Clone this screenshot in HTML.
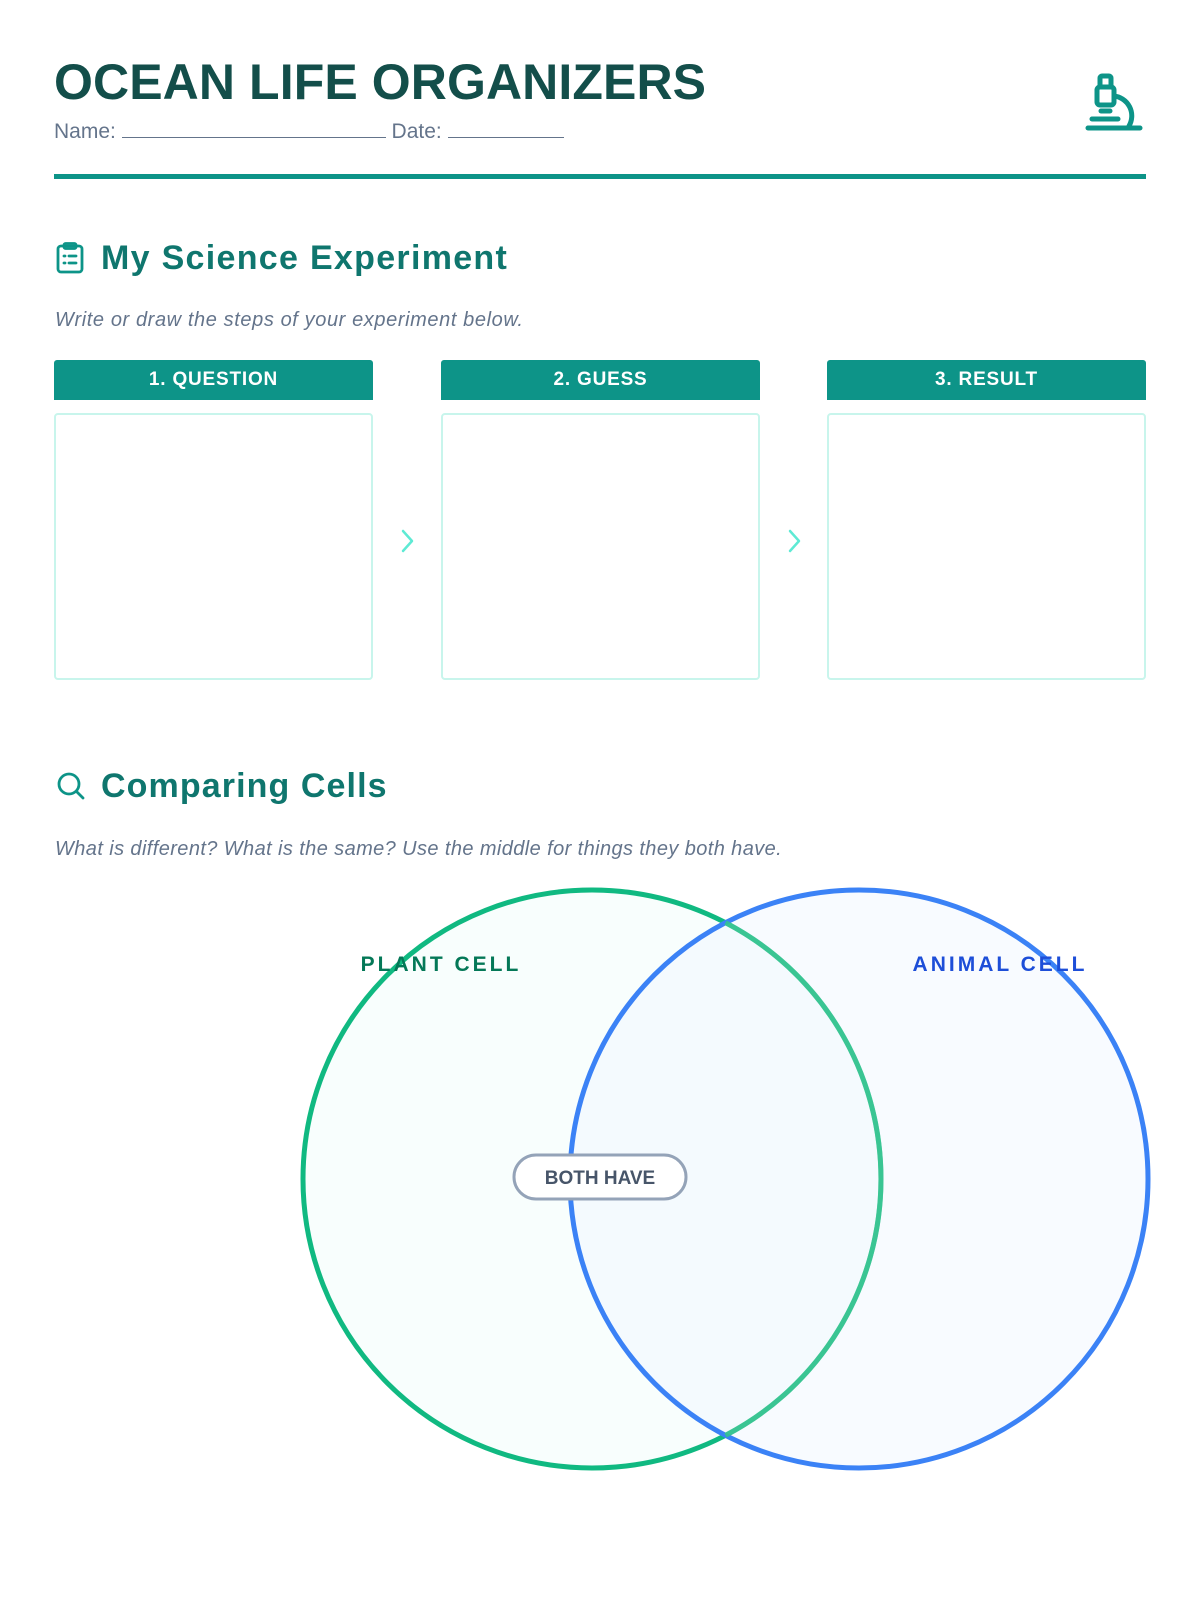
<!DOCTYPE html>
<html><head><meta charset="utf-8"><style>
html,body{margin:0;padding:0;background:#fff;}
body{width:1200px;height:1600px;position:relative;overflow:hidden;font-family:"Liberation Sans","DejaVu Sans",sans-serif;}
.abs{position:absolute;}
h1{position:absolute;left:54px;top:57px;margin:0;font-size:50px;font-weight:bold;color:#134e4a;letter-spacing:0.1px;line-height:1;}
.name{left:54px;top:118px;font-size:21px;color:#64748b;white-space:nowrap;}
.ul{display:inline-block;border-bottom:1.5px solid #64748b;height:19px;vertical-align:baseline;}
.rule{left:54px;top:174px;width:1092px;height:5px;background:#0d9488;}
.h2{font-size:34px;font-weight:bold;color:#0f766e;line-height:1;white-space:nowrap;}
.sub{font-size:20px;font-style:italic;color:#64748b;white-space:nowrap;}
.hdr{top:360px;height:40px;width:319px;background:#0d9488;border-radius:3px 3px 0 0;color:#fff;font-weight:bold;font-size:19px;text-align:center;line-height:40px;letter-spacing:.8px;}
.box{top:413px;height:263px;width:315px;border:2px solid #c8f5ec;border-radius:4px;}
</style></head><body>
<h1>OCEAN LIFE ORGANIZERS</h1>
<div class="abs name">Name: <span class="ul" style="width:264px"></span> Date: <span class="ul" style="width:116px"></span></div>
<svg class="abs" style="left:1085px;top:70px" width="62" height="64" viewBox="0 0 62 64" fill="none" stroke="#0d9488" stroke-width="5" stroke-linecap="round">
<rect x="15" y="6" width="11" height="11" rx="2"/><rect x="12" y="17" width="17" height="18" rx="3"/>
<line x1="16" y1="41" x2="25" y2="41"/><line x1="7" y1="49" x2="33" y2="49"/><line x1="3" y1="58" x2="55" y2="58"/>
<path d="M29 26 A20 20 0 0 1 44 56"/></svg>
<div class="abs rule"></div>

<svg class="abs" style="left:56px;top:242px" width="30" height="32" viewBox="0 0 30 32" fill="none" stroke="#0d9488" stroke-width="2.8" stroke-linecap="round">
<rect x="2" y="4" width="24" height="26" rx="3"/><rect x="8" y="1.5" width="12" height="5" rx="1.5"/>
<line x1="8" y1="14" x2="9" y2="14"/><line x1="13" y1="14" x2="20" y2="14"/><line x1="8" y1="21" x2="9" y2="21"/><line x1="13" y1="21" x2="20" y2="21"/></svg>
<div class="abs h2" style="left:101px;top:241px;letter-spacing:1.3px">My Science Experiment</div>
<div class="abs sub" style="left:55px;top:309px;letter-spacing:0.6px">Write or draw the steps of your experiment below.</div>

<div class="abs hdr" style="left:54px">1. QUESTION</div>
<div class="abs hdr" style="left:441px">2. GUESS</div>
<div class="abs hdr" style="left:827px">3. RESULT</div>
<div class="abs box" style="left:54px"></div>
<div class="abs box" style="left:441px"></div>
<div class="abs box" style="left:827px"></div>
<svg class="abs" style="left:398px;top:527px" width="20" height="28" fill="none" stroke="#5eead4" stroke-width="2.5" stroke-linecap="round" stroke-linejoin="round"><path d="M5 4 L14 14 L5 24"/></svg>
<svg class="abs" style="left:785px;top:527px" width="20" height="28" fill="none" stroke="#5eead4" stroke-width="2.5" stroke-linecap="round" stroke-linejoin="round"><path d="M5 4 L14 14 L5 24"/></svg>

<svg class="abs" style="left:56px;top:772px" width="30" height="30" fill="none" stroke="#0d9488" stroke-width="2.8" stroke-linecap="round"><circle cx="13" cy="12" r="10"/><line x1="20.5" y1="19.5" x2="27" y2="26"/></svg>
<div class="abs h2" style="left:101px;top:769px;letter-spacing:1.1px">Comparing Cells</div>
<div class="abs sub" style="left:55px;top:838px;letter-spacing:0.4px">What is different? What is the same? Use the middle for things they both have.</div>

<svg class="abs" style="left:0;top:0" width="1200" height="1600">
<circle cx="592" cy="1179" r="289" fill="#f0fdfa" fill-opacity=".45" stroke="#10b981" stroke-width="5"/>
<circle cx="859" cy="1179" r="289" fill="#eff6ff" fill-opacity=".45" stroke="#3b82f6" stroke-width="5"/>
<path d="M725.5 922.7 A289 289 0 0 1 725.5 1435.3" fill="none" stroke="#34c38f" stroke-width="5" stroke-opacity=".9"/>
<text x="441" y="971" text-anchor="middle" font-family="Liberation Sans,sans-serif" font-weight="bold" font-size="21" letter-spacing="3" fill="#047857">PLANT CELL</text>
<text x="1000" y="971" text-anchor="middle" font-family="Liberation Sans,sans-serif" font-weight="bold" font-size="21" letter-spacing="3" fill="#1d4ed8">ANIMAL CELL</text>
<rect x="514" y="1155" width="172" height="44" rx="22" fill="#fff" stroke="#94a3b8" stroke-width="3"/>
<text x="600" y="1184" text-anchor="middle" font-family="Liberation Sans,sans-serif" font-weight="bold" font-size="19" fill="#475569">BOTH HAVE</text>
</svg>
</body></html>
